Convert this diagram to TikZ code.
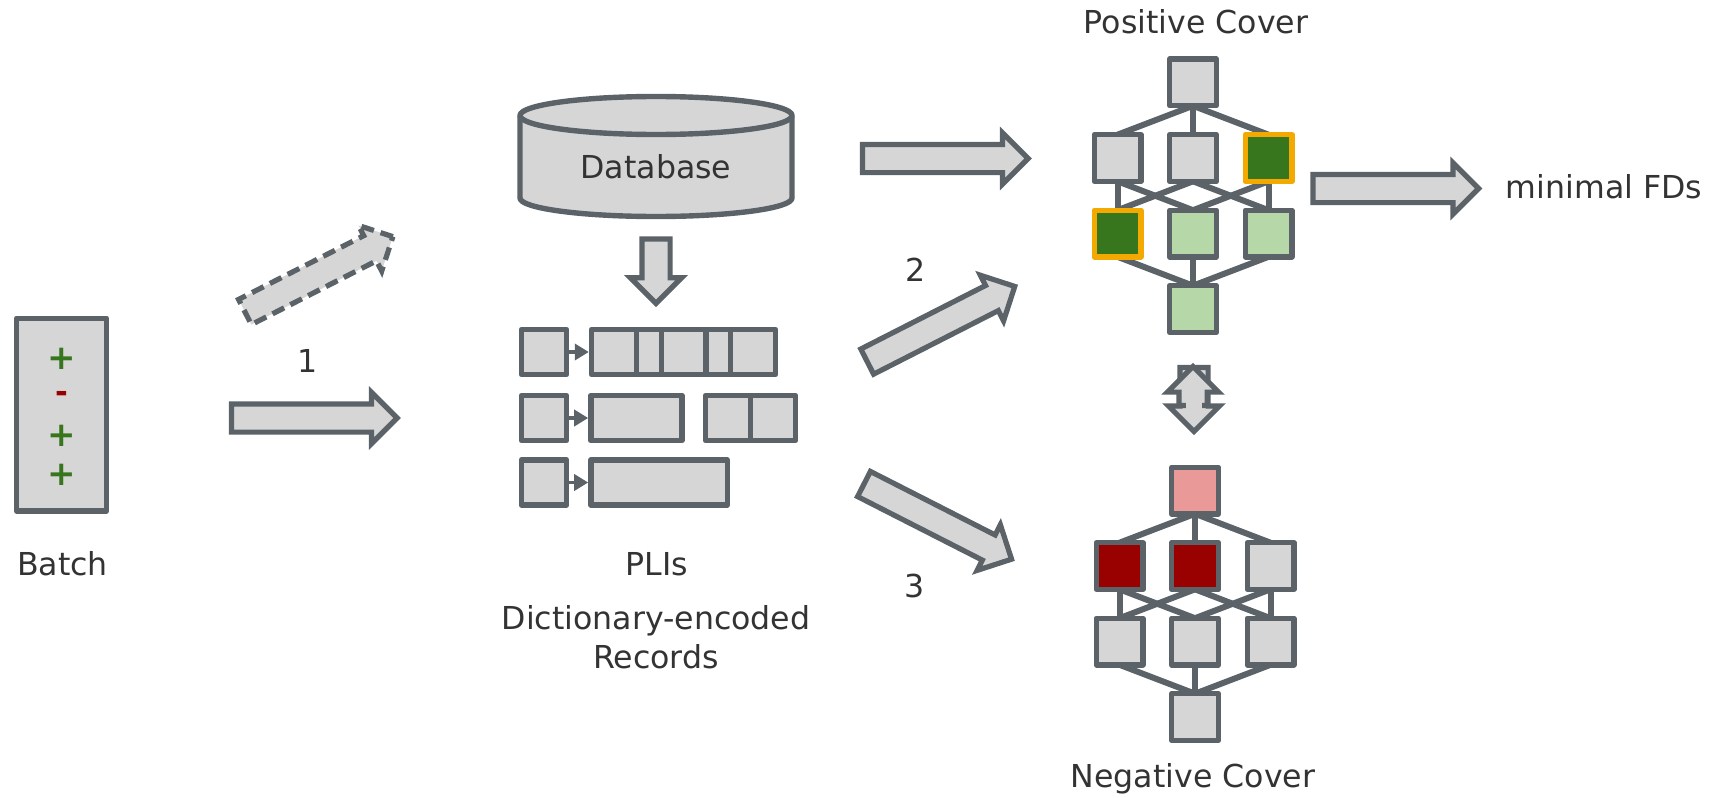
\documentclass[tikz,border=0pt]{standalone}
\usepackage{fontspec}
\setmainfont{DejaVu Sans}
\usetikzlibrary{shapes.arrows,arrows.meta,backgrounds}
\definecolor{linegray}{HTML}{5B6268}
\definecolor{fillgray}{HTML}{D6D6D6}
\definecolor{textgray}{HTML}{333333}
\definecolor{darkgreen}{HTML}{38761D}
\definecolor{lightgreen}{HTML}{B6D7A8}
\definecolor{darkred}{HTML}{990000}
\definecolor{lightred}{HTML}{EA9999}
\definecolor{coverorange}{HTML}{F4A900}
\begin{document}
\begin{tikzpicture}[x=.5pt, y=-.5pt, node distance=37.75pt,
  every node/.style={font={\fontsize{15.8}{19.5}\selectfont}, text=textgray, outer sep=0},
  cell/.style={draw=linegray, fill=fillgray, line width=2.7pt, line join=round, rectangle, inner sep=0},
  lat/.style={cell, minimum width=23.3pt, minimum height=23.3pt},
  good/.style={lat, fill=lightgreen},
  best/.style={lat, fill=darkgreen, draw=coverorange},
  bad/.style={lat, fill=lightred},
  worst/.style={lat, fill=darkred},
  pli/.style={cell, minimum height=22.6pt},
  blockarrow/.style={single arrow, draw=linegray, fill=fillgray, line width=2.6pt, anchor=tail,
    inner xsep=0pt, inner ysep=5.75pt, single arrow head extend=5.75pt},
  drum/.style={draw=linegray, fill=fillgray, line width=2.7pt, line join=round},
  edge/.style={draw=linegray, line width=3pt},
  tiny/.style={draw=linegray, line width=1.8pt, shorten >=1.3pt, -{Triangle[length=7pt,width=8pt]}}]
\useasboundingbox (0,0) rectangle (1711,797);
% batch
\node[cell, minimum width=45pt, minimum height=96.3pt] (batch) at (61.5,414.5) {};
\node[font={\fontsize{17}{17}\bfseries\selectfont}, text=darkgreen] (plusa) at (61.5,359) {+};
\node[font={\fontsize{15.4}{15}\bfseries\selectfont}, text=darkred] (minus) at (61.5,397) {-};
\node[font={\fontsize{17}{17}\bfseries\selectfont}, text=darkgreen] (plusb) at (61.5,435.5) {+};
\node[font={\fontsize{17}{17}\bfseries\selectfont}, text=darkgreen] (plusc) at (61.5,474.5) {+};
\node (batchtext) at (62.5,564) {Batch};
% arrows out of the batch
\node[blockarrow, dashed, dash pattern=on 6.5pt off 3.5pt, minimum height=83pt, rotate=27] (dashedarrow) at (245,312) {};
\node (one) at (308,360.5) {1};
\node[blockarrow, minimum height=82.8pt] (batcharrow) at (231.5,418) {};
% database
\draw[drum] (520,115.5) -- (520,198) arc[start angle=180, end angle=360, x radius=68pt, y radius=9.25pt]
  -- (792,115.5) arc[start angle=0, end angle=180, x radius=68pt, y radius=9.5pt] -- cycle;
\draw[drum, fill=none] (520,115.5) arc[start angle=180, end angle=360, x radius=68pt, y radius=9.5pt];
\node (databasetext) at (656,167) {Database};
\node[blockarrow, minimum height=32.2pt, rotate=-90] (dbdown) at (656,239) {};
% plis
\node[pli, minimum width=22.6pt] (keya) at (544,352) {};
\node[pli, minimum width=22.6pt] (keyb) at (544,418) {};
\node[pli, minimum width=22.6pt] (keyc) at (544,482.5) {};
\node[pli, minimum width=22.6pt] (vala) at (614,352) {};
\node[pli, minimum width=22.6pt] (valb) at (659,352) {};
\node[pli, minimum width=22.6pt] (valc) at (684,352) {};
\node[pli, minimum width=22.6pt] (vald) at (728.5,352) {};
\node[pli, minimum width=22.6pt] (vale) at (753,352) {};
\node[pli, minimum width=45.5pt] (valf) at (636.3,418) {};
\node[pli, minimum width=22.6pt] (valg) at (728,418) {};
\node[pli, minimum width=22.6pt] (valh) at (773,418) {};
\node[pli, minimum width=68.2pt] (vali) at (659,482.5) {};
\draw[tiny] (keya) -- (vala);
\draw[tiny] (keyb) -- (valf);
\draw[tiny] (keyc) -- (keyc-|vali.west);
\node (plitext) at (657,564) {PLIs};
\node[align=center] (dicttext) at (656,637.5) {Dictionary-encoded\\Records};
% arrows to the covers
\node[blockarrow, minimum height=82.8pt] (dbarrow) at (862.5,158.5) {};
\node[blockarrow, minimum height=82.8pt, rotate=27] (twoarrow) at (867.2,361.6) {};
\node[blockarrow, minimum height=82.8pt, rotate=-27] (threearrow) at (864,484) {};
\node (two) at (915.5,269.5) {2};
\node (three) at (914.5,586) {3};
% positive cover
\node[lat] (ptop) at (1193,82.5) {};
\node[lat, below of=ptop] (pb) {};
\node[lat, left of=pb] (pa) {};
\node[best, right of=pb] (pc) {};
\node[good, below of=pb] (pe) {};
\node[best, left of=pe] (pd) {};
\node[good, right of=pe] (pf) {};
\node[good, below of=pe] (pbot) {};
\begin{scope}[on background layer]
\draw[edge] (ptop.south) -- (pa.north);
\draw[edge] (ptop.south) -- (pb.north);
\draw[edge] (ptop.south) -- (pc.north);
\draw[edge] (pa.south) -- (pd.north);
\draw[edge] (pa.south) -- (pe.north);
\draw[edge] (pb.south) -- (pd.north);
\draw[edge] (pb.south) -- (pf.north);
\draw[edge] (pc.south) -- (pe.north);
\draw[edge] (pc.south) -- (pf.north);
\draw[edge] (pd.south) -- (pbot.north);
\draw[edge] (pe.south) -- (pbot.north);
\draw[edge] (pf.south) -- (pbot.north);
\end{scope}
\node (postext) at (1196,22) {Positive Cover};
\node[blockarrow, minimum height=82.8pt] (fdarrow) at (1313,188.5) {};
\node (fdtext) at (1604,187) {minimal FDs};
% between the covers
\node[blockarrow, minimum height=32pt, rotate=-90] (downarrow) at (1194,367.5) {};
\node[blockarrow, minimum height=19.5pt, rotate=90] (uparrow) at (1193,405.5) {};
\fill[fillgray] (1186,400) rectangle (1202,412);
% negative cover
\node[bad] (ntop) at (1195,490.5) {};
\node[worst, below of=ntop] (nb) {};
\node[worst, left of=nb] (na) {};
\node[lat, right of=nb] (nc) {};
\node[lat, below of=nb] (ne) {};
\node[lat, left of=ne] (nd) {};
\node[lat, right of=ne] (nf) {};
\node[lat, below of=ne] (nbot) {};
\begin{scope}[on background layer]
\draw[edge] (ntop.south) -- (na.north);
\draw[edge] (ntop.south) -- (nb.north);
\draw[edge] (ntop.south) -- (nc.north);
\draw[edge] (na.south) -- (nd.north);
\draw[edge] (na.south) -- (ne.north);
\draw[edge] (nb.south) -- (nd.north);
\draw[edge] (nb.south) -- (nf.north);
\draw[edge] (nc.south) -- (ne.north);
\draw[edge] (nc.south) -- (nf.north);
\draw[edge] (nd.south) -- (nbot.north);
\draw[edge] (ne.south) -- (nbot.north);
\draw[edge] (nf.south) -- (nbot.north);
\end{scope}
\node (negtext) at (1193,779) {Negative Cover};
\end{tikzpicture}
\end{document}
